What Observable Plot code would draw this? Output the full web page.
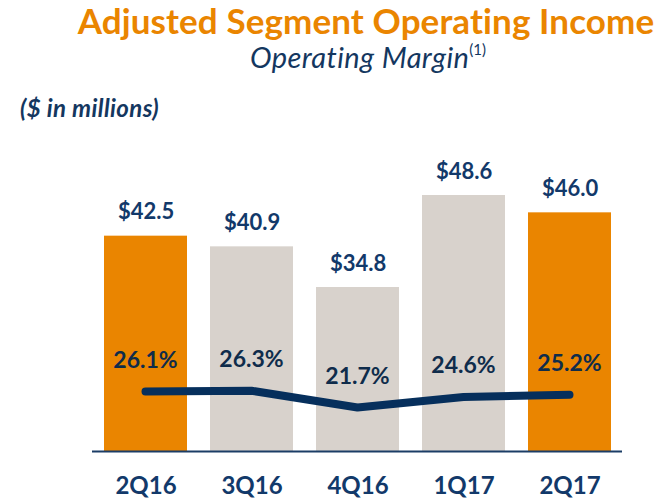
<!DOCTYPE html>
<html>
<head>
<meta charset="utf-8">
<script src="https://cdn.jsdelivr.net/npm/d3@7"></script>
<script src="https://cdn.jsdelivr.net/npm/@observablehq/plot@0.6"></script>
<style>
  html, body { margin: 0; padding: 0; background: #fff; }
  #wrap { position: relative; width: 665px; height: 499px; overflow: hidden; font-family: Lato, "Open Sans", sans-serif; }
  .t { position: absolute; white-space: nowrap; line-height: 1; }
  #title { left: 67px; width: 598px; text-align: center; top: 3px; font-size: 35px; letter-spacing: 0.1px; font-weight: 700; color: #EA8500; }
  #subtitle { left: 136px; width: 464px; text-align: center; top: 42px; font-size: 29px; letter-spacing: 0.4px; font-style: italic; color: #14375F; }
  #subtitle sup { font-size: 15px; font-style: normal; vertical-align: 0; position: relative; top: -13px; letter-spacing: 0; }
  #units { left: 20px; top: 96px; font-size: 24px; letter-spacing: 0.4px; font-style: italic; font-weight: 700; color: #14375F; }
  .layer { position: absolute; left: 0; top: 0; }
</style>
</head>
<body>
<div id="wrap">
  <div class="t" id="title">Adjusted Segment Operating Income</div>
  <div class="t" id="subtitle">Operating Margin<sup>(1)</sup></div>
  <div class="t" id="units">($ in millions)</div>
</div>
<script>
// ---- data ----
const quarters = ["2Q16", "3Q16", "4Q16", "1Q17", "2Q17"];
const income = [42.5, 40.9, 34.8, 48.6, 46.0];      // $ in millions
const margin = [26.1, 26.3, 21.7, 24.6, 25.2];      // operating margin %
const compared = ["2Q16", "2Q17"];                   // highlighted quarters

const data = quarters.map((q, i) => ({q, income: income[i], margin: margin[i]}));

const ORANGE = "#EA8500", GRAY = "#D8D2CC", NAVY = "#12396A", LINE = "#062F5C", DARK = "#0F2C4B";
const font = "Lato, 'Open Sans', sans-serif";
const yMin = 10.2;

const xOpts = {domain: quarters, paddingInner: 0.217, paddingOuter: 0.1085};

const bars = Plot.plot({
  width: 665, height: 499,
  marginLeft: 92, marginRight: 43, marginTop: 0, marginBottom: 48,
  style: {fontFamily: font, background: "transparent", overflow: "visible"},
  x: {...xOpts, axis: null},
  y: {domain: [yMin, 48.6], range: [451, 195], axis: null},
  marks: [
    Plot.barY(data, {x: "q", y1: yMin, y2: "income", fill: d => compared.includes(d.q) ? ORANGE : GRAY}),
    Plot.ruleY([yMin], {stroke: "#1B3D66", strokeWidth: 2}),
    Plot.text(data, {x: "q", y: "income", text: d => `$${d.income.toFixed(1)}`, dy: -17, lineAnchor: "bottom",
      fontSize: 22, fontWeight: 700, fill: NAVY, fontFamily: font}),
    Plot.axisX({tickSize: 0, tickPadding: 25, fontSize: 24, fontWeight: 700, fill: NAVY, label: null,
      fontFamily: font, letterSpacing: "1px"})
  ]
});

const line = Plot.plot({
  width: 665, height: 499,
  marginLeft: 92, marginRight: 43, marginTop: 0, marginBottom: 48,
  style: {fontFamily: font, background: "transparent", overflow: "visible"},
  x: {...xOpts, axis: null},
  y: {domain: [21.7, 26.1], range: [407, 391], axis: null},
  marks: [
    Plot.lineY(data, {x: "q", y: "margin", stroke: LINE, strokeWidth: 8, strokeLinecap: "round", strokeLinejoin: "miter"}),
    Plot.text(data, {x: "q", y: "margin", text: d => `${d.margin.toFixed(1)}%`, dy: -24, lineAnchor: "bottom",
      fontSize: 23, fontWeight: 700, fill: DARK, fontFamily: font})
  ]
});

bars.classList.add("layer");
line.classList.add("layer");
const wrap = document.getElementById("wrap");
wrap.appendChild(bars);
wrap.appendChild(line);
</script>
</body>
</html>
